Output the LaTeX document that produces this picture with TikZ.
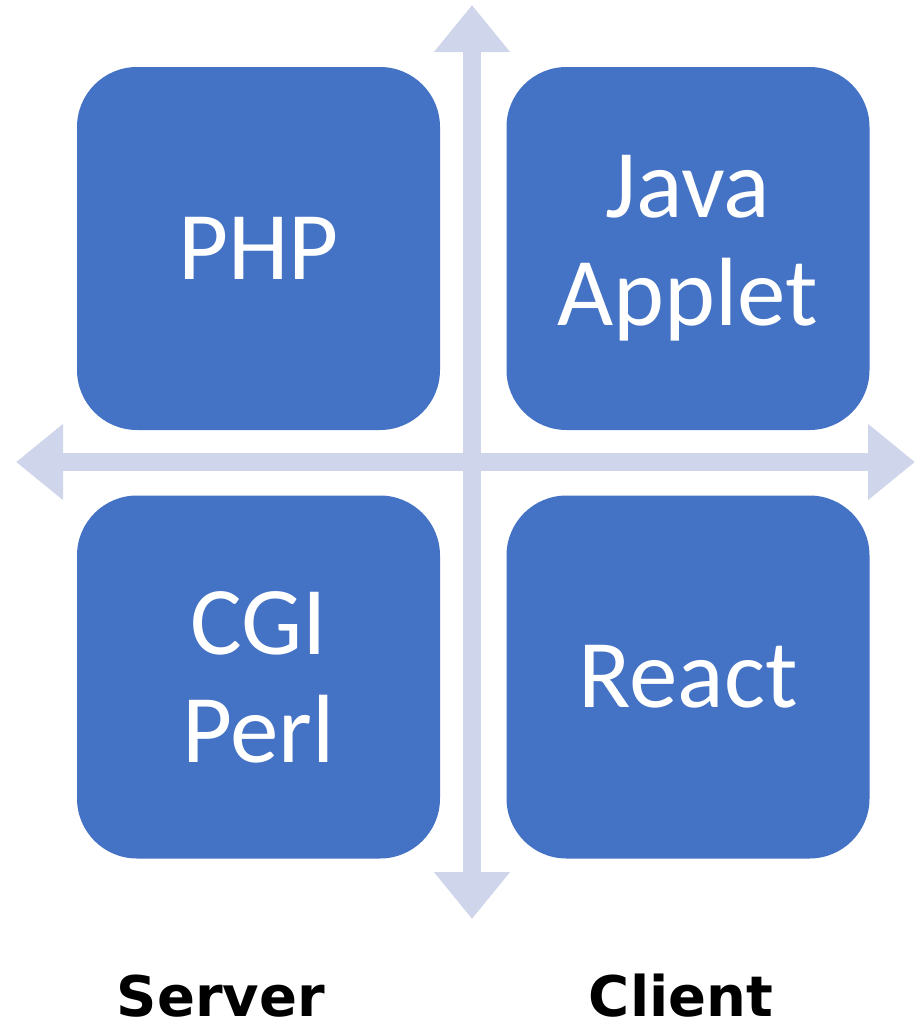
\documentclass[tikz,border=0pt]{standalone}
\usepackage{fontspec}
\setmainfont{Carlito}
\newfontfamily\labelfont{DejaVu Sans}
\usetikzlibrary{arrows.meta}
\definecolor{boxblue}{HTML}{4472C4}
\definecolor{axiscol}{HTML}{CFD5EA}
\begin{document}
\begin{tikzpicture}[x=1pt,y=-1pt,
  quad/.style={fill=boxblue, draw=none, rounded corners=60pt, minimum width=363pt, minimum height=363pt, text=white, font=\fontsize{97}{108}\selectfont, align=center, inner sep=0pt},
  axis/.style={axiscol, line width=18pt, {Triangle[width=73pt,length=47pt]}-{Triangle[width=73pt,length=47pt]}},
  lbl/.style={font=\labelfont\bfseries\fontsize{56}{60}\selectfont, text=black, anchor=base, inner sep=0pt}]
\useasboundingbox (0,0) rectangle (915,1028);
\coordinate (L) at (16,462);
\coordinate (R) at (915,462);
\coordinate (T) at (472,5);
\coordinate (B) at (472,919);
\draw[axis] (L) -- (R);
\draw[axis] (T) -- (B);
\node[quad] (php) at (258.5,248.5) {PHP};
\node[quad] (java) at (688,248.5) {Java\\Applet};
\node[quad] (cgi) at (258.5,677) {CGI\\Perl};
\node[quad] (react) at (688,677) {React};
\node[lbl] (server) at (221,1016) {Server};
\node[lbl] (client) at (681,1016) {Client};
\end{tikzpicture}
\end{document}
